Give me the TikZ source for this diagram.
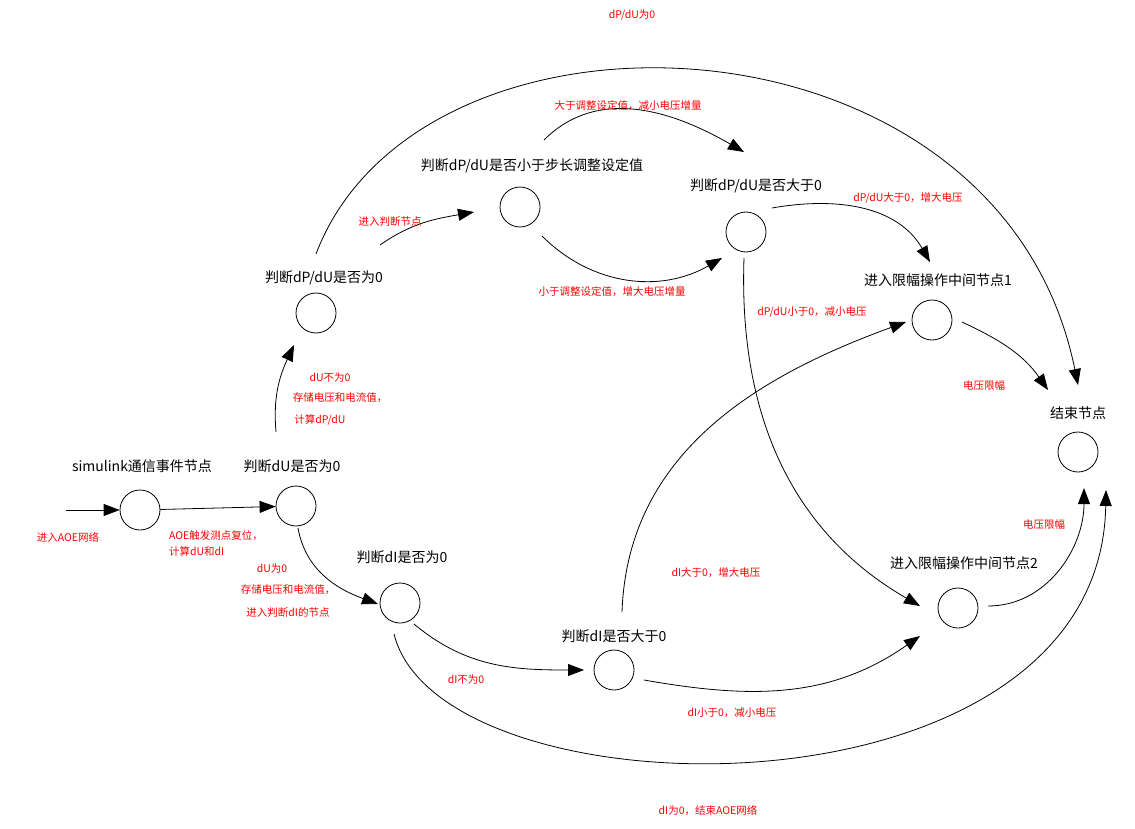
\documentclass[tikz,border=0pt]{standalone}
\usepackage{fontspec}
\setmainfont{Noto Sans CJK SC}
\usetikzlibrary{arrows.meta,calc}
\tikzset{
  state/.style={circle,draw,thick,minimum size=40pt,inner sep=0pt},
  title/.style={font=\fontsize{14}{16}\selectfont},
  note/.style={text=red,font=\fontsize{10.5}{12}\selectfont},
  arr/.style={thick,-{Triangle[length=16pt,width=12pt]}}
}
\begin{document}
\begin{tikzpicture}[x=1pt,y=-1pt]
   \useasboundingbox (0,0) rectangle (1135,829);

   % states
   \node[state] (start)  at (140,510) {};
   \node[state] (dU)     at (296,506) {};
   \node[state] (dPdU0)  at (316,313) {};
   \node[state] (step)   at (520,207) {};
   \node[state] (gt0)    at (746,232) {};
   \node[state] (lim1)   at (932,320) {};
   \node[state] (end)    at (1078,452) {};
   \node[state] (dI0)    at (400,603) {};
   \node[state] (dIgt)   at (614,670) {};
   \node[state] (lim2)   at (958,608) {};
   \coordinate (in) at (66,510);

   % state titles
   \node[title] at (142,466) {simulink通信事件节点};
   \node[title] at (292,466) {判断dU是否为0};
   \node[title] at (324,278) {判断dP/dU是否为0};
   \node[title] at (532,166) {判断dP/dU是否小于步长调整设定值};
   \node[title] at (756,186) {判断dP/dU是否大于0};
   \node[title] at (938,280) {进入限幅操作中间节点1};
   \node[title] at (1078,413) {结束节点};
   \node[title] at (402,557) {判断dI是否为0};
   \node[title] at (614,636) {判断dI是否大于0};
   \node[title] at (964,563) {进入限幅操作中间节点2};

   % transitions
   \draw[arr] (in) -- (start);
   \draw[arr] (start) -- (dU);
   \draw[arr] ($(dU)+(-20,-74)$) to[out=95,in=245] ($(dPdU0)+(-22,32)$);
   \draw[arr] ($(dPdU0)+(64,-68)$) to[out=35,in=190] ($(step)+(-46,5)$);
   \draw[arr] ($(step)+(24,-67)$) to[out=45,in=150] ($(gt0)+(-2,-80)$);
   \draw[arr] ($(step)+(22,29)$) to[out=-45,in=210] ($(gt0)+(-24,26)$);
   \draw[arr] ($(dPdU0)+(0,-59)$) .. controls (420,-20) and (1000,0) .. ($(end)+(0,-67)$);
   \draw[arr] ($(gt0)+(26,-24)$) to[out=10,in=120] ($(lim1)+(-2,-58)$);
   \draw[arr] ($(gt0)+(-2,26)$) to[out=-92,in=150] ($(lim2)+(-38,-2)$);
   \draw[arr] ($(lim1)+(30,2)$) to[out=-25,in=125] ($(end)+(-30,-62)$);
   \draw[arr] ($(dU)+(2,22)$) to[out=-80,in=160] ($(dI0)+(-22,1)$);
   \draw[arr] ($(dI0)+(14,21)$) to[out=-40,in=180] ($(dIgt)+(-30,0)$);
   \draw[arr] ($(dIgt)+(8,-58)$) to[out=88,in=200] ($(lim1)+(-26,2)$);
   \draw[arr] ($(dIgt)+(30,10)$) to[out=-10,in=215] ($(lim2)+(-38,28)$);
   \draw[arr] ($(lim2)+(30,-2)$) to[out=0,in=-90] ($(end)+(6,36)$);
   \draw[arr] ($(dI0)+(-6,31)$) .. controls (440,820) and (1100,830) .. ($(end)+(28,38)$);

   % transition notes
   \node[note] at (68,537) {进入AOE网络};
   \node[note, align=left] at (216,543) {AOE触发测点复位，\\[4pt]计算dU和dI};
   \node[note] at (330,378) {dU不为0};
   \node[note] at (340,398) {存储电压和电流值，};
   \node[note] at (320,420) {计算dP/dU};
   \node[note] at (390,222) {进入判断节点};
   \node[note] at (628,106) {大于调整设定值，减小电压增量};
   \node[note] at (612,292) {小于调整设定值，增大电压增量};
   \node[note] at (632,15) {dP/dU为0};
   \node[note] at (908,198) {dP/dU大于0，增大电压};
   \node[note] at (812,312) {dP/dU小于0，减小电压};
   \node[note] at (984,386) {电压限幅};
   \node[note] at (272,568) {dU为0};
   \node[note] at (288,590) {存储电压和电流值，};
   \node[note] at (288,613) {进入判断dI的节点};
   \node[note] at (466,680) {dI不为0};
   \node[note] at (716,573) {dI大于0，增大电压};
   \node[note] at (732,713) {dI小于0，减小电压};
   \node[note] at (1044,525) {电压限幅};
   \node[note] at (708,811) {dI为0，结束AOE网络};
\end{tikzpicture}
\end{document}
